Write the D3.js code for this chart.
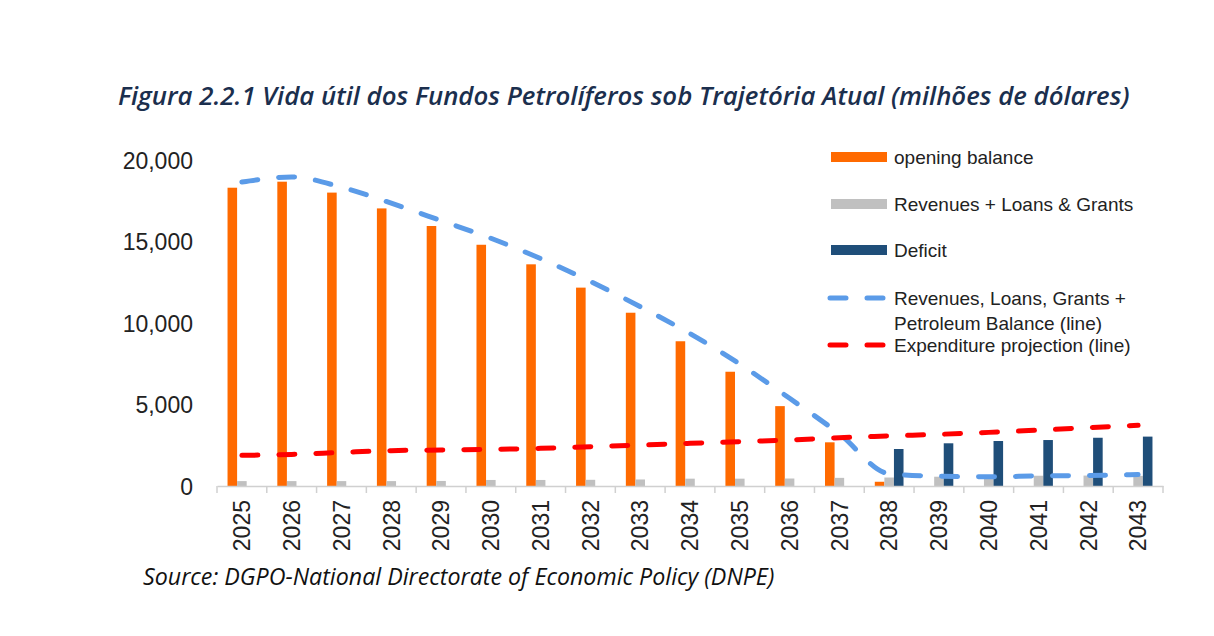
<!DOCTYPE html>
<html>
<head>
<meta charset="utf-8">
<script src="https://cdn.jsdelivr.net/npm/d3@7"></script>
<style>
  body { margin: 0; background: #fff; }
  svg { display: block; font-family: "Liberation Sans", Arial, sans-serif; }
</style>
</head>
<body>
<svg id="chart"></svg>
<script>
// data (millions of dollars)
const years = ['2025','2026','2027','2028','2029','2030','2031','2032','2033','2034',
               '2035','2036','2037','2038','2039','2040','2041','2042','2043']
const openingBalance = [18300, 18670, 18000, 17030, 15950, 14800, 13600, 12170, 10630, 8880,
                        7010, 4900, 2680, 260, 0, 0, 0, 0, 0]
const revenues = [300, 300, 300, 300, 310, 370, 370, 380, 400, 450,
                  450, 460, 500, 520, 570, 560, 630, 640, 620]
const deficit = [0, 0, 0, 0, 0, 0, 0, 0, 0, 0,
                 0, 0, 0, 2270, 2620, 2760, 2820, 2960, 3030]
const totalLine = [18650, 18960, 18330, 17350, 16280, 15200, 13950, 12550, 11000, 9350,
                   7480, 5380, 3200, 750, 600, 560, 620, 640, 700]
const expenditure = [1880, 1940, 2060, 2170, 2210, 2250, 2310, 2410, 2510, 2620,
                     2720, 2820, 2960, 3070, 3170, 3290, 3430, 3580, 3720]
const yTicks = [0, 5000, 10000, 15000, 20000]

let width = 1214
let height = 636
let plotLeft = 217, plotRight = 1163, plotTop = 160, plotBottom = 486

let svg = d3.select('#chart').attr('width', width).attr('height', height)

// scales
let xScale = d3.scaleBand().domain(years).range([plotLeft, plotRight])
let sub = d3.scaleBand().domain(['open', 'rev', 'def']).range([0, xScale.bandwidth()])
            .paddingOuter(1.1).paddingInner(0)
let yScale = d3.scaleLinear().domain([0, 20000]).range([plotBottom, plotTop])

// squeeze/stretch a text so it spans the same width as the original
let fit = (sel, target) => {
    let w = sel.node().getComputedTextLength()
    let fs = parseFloat(sel.style('font-size'))
    sel.style('font-size', (fs * target / w) + 'px')
}

// title
let title = svg.append('text')
   .attr('x', 118).attr('y', 105)
   .attr('fill', '#1b2f4e')
   .style('font-family', '"Open Sans", sans-serif')
   .style('font-style', 'italic')
   .style('font-weight', 600)
   .style('font-size', '23px')
   .text('Figura 2.2.1 Vida útil dos Fundos Petrolíferos sob Trajetória Atual (milhões de dólares)')
fit(title, 1012)

// y axis (labels only, no line)
let yAxis = d3.axisLeft(yScale).tickValues(yTicks).tickFormat(d3.format(',')).tickSize(0).tickPadding(0)
let gy = svg.append('g').attr('transform', 'translate(193,0)').call(yAxis)
gy.select('.domain').remove()
gy.selectAll('text').attr('fill', '#222').style('font-size', '23px')
  .style('font-family', '"Liberation Sans", Arial, sans-serif').attr('dy', '0.36em')

// bars
let series = [
    { key: 'open', values: openingBalance, color: '#ff6a00' },
    { key: 'rev', values: revenues, color: '#c0c0c0' },
    { key: 'def', values: deficit, color: '#1f4e79' }
]
series.forEach(s => {
    svg.append('g').selectAll('rect')
       .data(years.map((y, i) => ({ year: y, v: s.values[i] })).filter(d => d.v > 0))
       .enter()
       .append('rect')
       .attr('x', d => xScale(d.year) + sub(s.key))
       .attr('width', sub.bandwidth())
       .attr('y', d => yScale(d.v))
       .attr('height', d => yScale(0) - yScale(d.v))
       .attr('fill', s.color)
})

// x axis
let xAxis = d3.axisBottom(xScale).tickSize(0).tickPadding(0)
let gx = svg.append('g').attr('transform', 'translate(0,' + plotBottom + ')').call(xAxis)
gx.select('.domain').attr('stroke', '#d0d0d0').attr('stroke-width', 1.5)
gx.selectAll('.tick line').remove()
gx.selectAll('text')
  .attr('transform', 'rotate(-90)')
  .attr('text-anchor', 'end')
  .attr('x', -14).attr('y', 0).attr('dy', '0.36em')
  .attr('fill', '#222')
  .style('font-size', '23px')
  .style('font-family', '"Liberation Sans", Arial, sans-serif')
// tick marks at category boundaries
let edges = years.map(y => xScale(y)).concat([plotRight])
svg.append('g').selectAll('line')
   .data(edges)
   .enter()
   .append('line')
   .attr('x1', d => d).attr('x2', d => d)
   .attr('y1', plotBottom).attr('y2', plotBottom + 7)
   .attr('stroke', '#d0d0d0').attr('stroke-width', 1.5)

// dashed lines
let lineGen = vals => d3.line()
    .x((d, i) => xScale(years[i]) + xScale.bandwidth() / 2)
    .y(d => yScale(d))
    .curve(d3.curveMonotoneX)(vals)

svg.append('path')
   .attr('d', lineGen(totalLine))
   .attr('fill', 'none')
   .attr('stroke', '#5b9be8')
   .attr('stroke-width', 5)
   .attr('stroke-linecap', 'round')
   .attr('stroke-dasharray', '16 21')

svg.append('path')
   .attr('d', lineGen(expenditure))
   .attr('fill', 'none')
   .attr('stroke', '#ff0000')
   .attr('stroke-width', 5)
   .attr('stroke-linecap', 'round')
   .attr('stroke-dasharray', '16 21')

// legend
let legend = svg.append('g').style('font-size', '19px').attr('fill', '#222')
let barItems = [
    { label: 'opening balance', color: '#ff6a00', y: 157 },
    { label: 'Revenues + Loans & Grants', color: '#c0c0c0', y: 204 },
    { label: 'Deficit', color: '#1f4e79', y: 250 }
]
barItems.forEach(it => {
    legend.append('rect').attr('x', 831).attr('y', it.y - 5).attr('width', 56).attr('height', 10)
          .attr('fill', it.color)
    legend.append('text').attr('x', 894).attr('y', it.y).attr('dy', '0.35em').text(it.label)
})
let lineItems = [
    { label: ['Revenues, Loans, Grants +', 'Petroleum Balance (line)'], color: '#5b9be8', y: 298 },
    { label: ['Expenditure projection (line)'], color: '#ff0000', y: 345 }
]
lineItems.forEach(it => {
    legend.append('line').attr('x1', 830).attr('x2', 886).attr('y1', it.y).attr('y2', it.y)
          .attr('stroke', it.color).attr('stroke-width', 5).attr('stroke-linecap', 'round')
          .attr('stroke-dasharray', '16 21')
    it.label.forEach((t, k) => {
        legend.append('text').attr('x', 894).attr('y', it.y + k * 25).attr('dy', '0.35em').text(t)
    })
})

// source
let source = svg.append('text')
   .attr('x', 143).attr('y', 585)
   .attr('fill', '#111')
   .style('font-family', '"Open Sans", sans-serif')
   .style('font-style', 'italic')
   .style('font-size', '20px')
   .text('Source: DGPO-National Directorate of Economic Policy (DNPE)')
fit(source, 632)
</script>
</body>
</html>
